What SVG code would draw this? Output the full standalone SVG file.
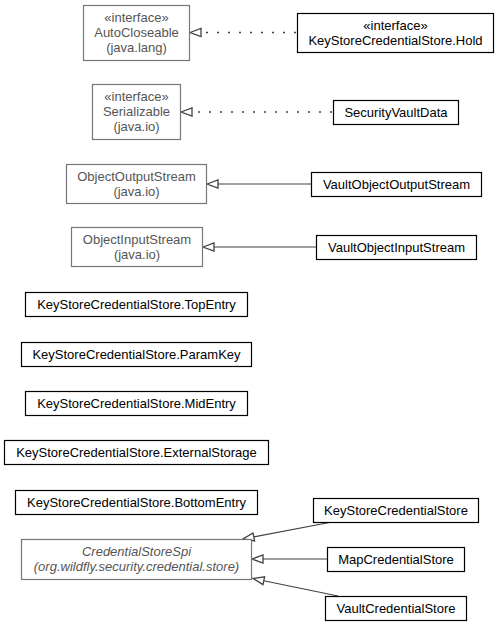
<svg xmlns="http://www.w3.org/2000/svg" width="500" height="627" viewBox="0 0 500 627">
<style>
text{font-family:"Liberation Sans",Arial,sans-serif;font-size:13px;text-anchor:middle;fill:#000}
.ext rect{fill:#fff;stroke:#777;stroke-width:1.2}
.ext text{fill:#555}
.cls rect{fill:#fff;stroke:#000;stroke-width:1.2}
.it{font-style:italic}
.edge line{stroke:#404040;stroke-width:1.1;fill:none}
.edge .dot{stroke-dasharray:2,9;stroke-width:1.6}
.edge polygon{fill:#fff;stroke:#404040;stroke-width:1.3}
</style>
<rect width="500" height="627" fill="#fff"/>
<g id="connectors" class="edge">
  <line class="dot" x1="296" y1="32.5" x2="203" y2="32.5"/>
  <polygon points="190,32.5 201,28.5 201,36.5"/>
  <line class="dot" x1="332" y1="112" x2="194" y2="112"/>
  <polygon points="181,112 192,108 192,116"/>
  <line x1="311" y1="184" x2="218" y2="184"/>
  <polygon points="207,184 218,180 218,188"/>
  <line x1="316" y1="247" x2="214" y2="247"/>
  <polygon points="203,247 214,243 214,251"/>
  <line x1="332" y1="522" x2="253.8" y2="536.9"/>
  <polygon points="243,539 254.6,540.9 253.0,533.0"/>
  <line x1="327" y1="559" x2="263" y2="559"/>
  <polygon points="252,559 263,555 263,563"/>
  <line x1="338" y1="596" x2="263.8" y2="580.7"/>
  <polygon points="253,578.5 264.6,576.8 263.0,584.6"/>
</g>
<g id="AutoCloseable" class="ext">
  <rect x="83.5" y="5.5" width="106" height="55"/>
  <text x="136.5" y="22">«interface»</text>
  <text x="136.5" y="37">AutoCloseable</text>
  <text x="136.5" y="52">(java.lang)</text>
</g>
<g id="KeyStoreCredentialStore.Hold" class="cls">
  <rect x="297.5" y="13.5" width="196" height="39"/>
  <text x="395.5" y="29.5">«interface»</text>
  <text x="395.5" y="44.5">KeyStoreCredentialStore.Hold</text>
</g>
<g id="Serializable" class="ext">
  <rect x="92.5" y="84.5" width="88" height="55"/>
  <text x="136.5" y="101">«interface»</text>
  <text x="136.5" y="116">Serializable</text>
  <text x="136.5" y="131">(java.io)</text>
</g>
<g id="SecurityVaultData" class="cls">
  <rect x="333.5" y="100.5" width="125" height="24"/>
  <text x="396" y="116.5">SecurityVaultData</text>
</g>
<g id="ObjectOutputStream" class="ext">
  <rect x="66.5" y="164.5" width="140" height="39"/>
  <text x="136.5" y="180.5">ObjectOutputStream</text>
  <text x="136.5" y="195.5">(java.io)</text>
</g>
<g id="VaultObjectOutputStream" class="cls">
  <rect x="311.5" y="172.5" width="170" height="24"/>
  <text x="396.5" y="188.5">VaultObjectOutputStream</text>
</g>
<g id="ObjectInputStream" class="ext">
  <rect x="71.5" y="227.5" width="131" height="39"/>
  <text x="137" y="243.5">ObjectInputStream</text>
  <text x="137" y="258.5">(java.io)</text>
</g>
<g id="VaultObjectInputStream" class="cls">
  <rect x="316.5" y="235.5" width="160" height="24"/>
  <text x="396.5" y="251.5">VaultObjectInputStream</text>
</g>
<g id="KeyStoreCredentialStore.TopEntry" class="cls">
  <rect x="25.5" y="292.5" width="222" height="24"/>
  <text x="136.5" y="308.5">KeyStoreCredentialStore.TopEntry</text>
</g>
<g id="KeyStoreCredentialStore.ParamKey" class="cls">
  <rect x="21.5" y="342.5" width="230" height="24"/>
  <text x="136.5" y="358.5">KeyStoreCredentialStore.ParamKey</text>
</g>
<g id="KeyStoreCredentialStore.MidEntry" class="cls">
  <rect x="25.5" y="391.5" width="222" height="24"/>
  <text x="136.5" y="407.5">KeyStoreCredentialStore.MidEntry</text>
</g>
<g id="KeyStoreCredentialStore.ExternalStorage" class="cls">
  <rect x="4.5" y="440.5" width="264" height="24"/>
  <text x="136.5" y="456.5">KeyStoreCredentialStore.ExternalStorage</text>
</g>
<g id="KeyStoreCredentialStore.BottomEntry" class="cls">
  <rect x="15.5" y="490.5" width="242" height="24"/>
  <text x="136.5" y="506.5">KeyStoreCredentialStore.BottomEntry</text>
</g>
<g id="CredentialStoreSpi" class="ext">
  <rect x="21.5" y="539.5" width="230" height="40"/>
  <text class="it" x="136.5" y="556">CredentialStoreSpi</text>
  <text class="it" x="136.5" y="571">(org.wildfly.security.credential.store)</text>
</g>
<g id="KeyStoreCredentialStore" class="cls">
  <rect x="313.5" y="498.5" width="165" height="24"/>
  <text x="396" y="514.5">KeyStoreCredentialStore</text>
</g>
<g id="MapCredentialStore" class="cls">
  <rect x="327.5" y="547.5" width="137" height="24"/>
  <text x="396" y="563.5">MapCredentialStore</text>
</g>
<g id="VaultCredentialStore" class="cls">
  <rect x="325.5" y="596.5" width="141" height="24"/>
  <text x="396" y="612.5">VaultCredentialStore</text>
</g>
</svg>
